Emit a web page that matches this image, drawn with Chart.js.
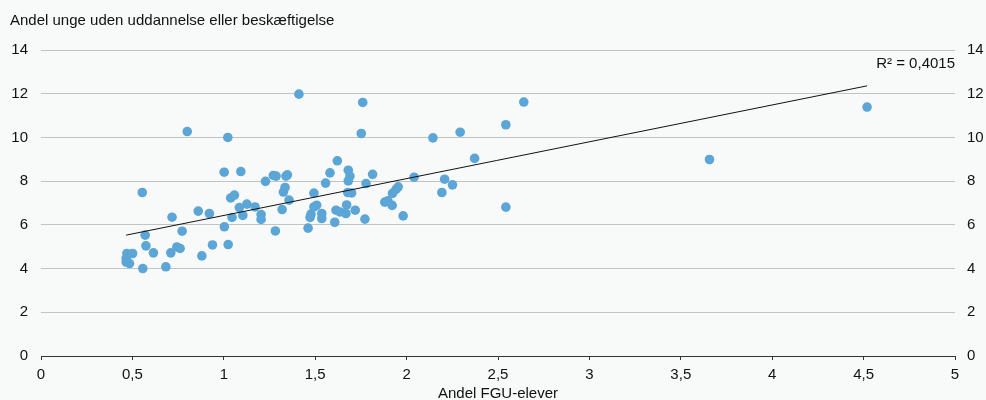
<!DOCTYPE html>
<html lang="da">
<head>
<meta charset="utf-8">
<title>Andel unge uden uddannelse eller beskæftigelse</title>
<script src="https://cdn.jsdelivr.net/npm/chart.js@4"></script>
<style>
    html, body { margin: 0; padding: 0; background: #f8f9f9; }
    #wrap { width: 986px; height: 400px; position: relative; }
</style>
</head>
<body>
<div id="wrap"><canvas id="fguChart"></canvas></div>
<script>
// Data
const fguShare = [ // x: Andel FGU-elever
    0.470, 0.501, 0.466, 0.466, 0.484, 0.554, 0.570, 0.574, 0.557, 0.615,
    0.683, 0.710, 0.717, 0.743, 0.761, 0.772, 0.800, 0.860, 0.880, 0.921,
    0.938, 1.003, 1.024, 1.002, 1.022, 1.038, 1.058, 1.045, 1.085, 1.093,
    1.104, 1.126, 1.171, 1.204, 1.204, 1.228, 1.271, 1.286, 1.282, 1.319,
    1.326, 1.335, 1.340, 1.348, 1.357, 1.411, 1.461, 1.472, 1.477, 1.493,
    1.493, 1.508, 1.536, 1.536, 1.557, 1.581, 1.607, 1.614, 1.621, 1.636,
    1.668, 1.672, 1.678, 1.681, 1.681, 1.690, 1.699, 1.719, 1.752, 1.760,
    1.772, 1.778, 1.814, 1.881, 1.897, 1.921, 1.923, 1.942, 1.954, 1.981,
    2.041, 2.144, 2.193, 2.208, 2.251, 2.293, 2.372, 2.543, 2.543, 2.641,
    3.657, 4.519
];
const neetShare = [ // y: Andel unge uden uddannelse eller beskæftigelse
    4.69, 4.69, 4.47, 4.30, 4.23, 7.48, 5.53, 5.04, 4.00, 4.72,
    4.08, 4.72, 6.35, 4.99, 4.92, 5.71, 10.27, 6.63, 4.58, 6.52,
    5.08, 5.91, 5.10, 8.41, 10.00, 7.23, 7.36, 6.34, 6.79, 8.44,
    6.43, 6.95, 6.82, 6.47, 6.25, 7.99, 8.26, 8.23, 5.72, 6.70,
    7.50, 7.71, 8.23, 8.29, 7.13, 11.98, 5.85, 6.34, 6.49, 6.82,
    7.45, 6.90, 6.52, 6.29, 7.91, 8.38, 6.12, 6.67, 8.93, 6.59,
    6.52, 6.91, 7.48, 8.01, 8.50, 8.23, 7.46, 6.67, 10.18, 11.60,
    6.26, 7.89, 8.31, 7.04, 7.10, 6.89, 7.44, 7.62, 7.74, 6.41,
    8.18, 9.98, 7.48, 8.09, 7.83, 10.24, 9.04, 10.58, 6.81, 11.62,
    8.99, 11.39
];
const trendX = [0.466, 4.519]; // end points of the trend line, as drawn
const trendY = [5.53, 12.36];
const yTicks = [0, 2, 4, 6, 8, 10, 12, 14];
const xTicks = [0, 0.5, 1, 1.5, 2, 2.5, 3, 3.5, 4, 4.5, 5];

const FONT = "'Liberation Sans', Arial, Helvetica, sans-serif";
const TEXT = '#111';

// small plugin for the texts that are not axis labels (top title and R²)
const extraText = {
    id: 'extraText',
    afterDraw(chart) {
        const ctx = chart.ctx;
        const area = chart.chartArea;
        ctx.save();
        ctx.font = '15px ' + FONT;
        ctx.fillStyle = TEXT;
        ctx.textBaseline = 'middle';
        ctx.textAlign = 'left';
        ctx.fillText('Andel unge uden uddannelse eller beskæftigelse', 10, 21); // y-axis title above the plot
        ctx.textAlign = 'right';
        ctx.fillText('R² = 0,4015', area.right, 64); // goodness of fit label
        ctx.restore();
    }
};

document.addEventListener('DOMContentLoaded', () => {
    const ctx = document.getElementById('fguChart').getContext('2d');
    const points = fguShare.map((x, i) => ({ x: x, y: neetShare[i] })); // pair up x and y
    const trend = trendX.map((x, i) => ({ x: x, y: trendY[i] }));
    const comma = v => String(v).replace('.', ','); // Danish decimal comma
    const tickFont = { family: FONT, size: 15 };

    new Chart(ctx, {
        type: 'scatter',
        data: {
            datasets: [{
                data: points,
                backgroundColor: '#5ba6d6',
                borderWidth: 0,
                pointRadius: 4.8,
                pointHoverRadius: 4.8
            }, {
                data: trend,
                showLine: true,
                borderColor: '#111',
                borderWidth: 1,
                pointRadius: 0,
                order: -1
            }]
        },
        options: {
            responsive: true,
            maintainAspectRatio: false,
            animation: false,
            layout: { padding: { top: 50, left: 0, right: 0, bottom: 0 } },
            plugins: { legend: { display: false }, tooltip: { enabled: false } },
            scales: {
                x: {
                    type: 'linear', min: 0, max: 5,
                    afterBuildTicks: s => { s.ticks = xTicks.map(v => ({ value: v })); },
                    afterFit: s => { s.height = 44; },
                    grid: { drawOnChartArea: false, drawTicks: true, tickLength: 4, color: '#333' },
                    border: { color: '#333', width: 1 },
                    ticks: { color: TEXT, font: tickFont, padding: 6, callback: comma },
                    title: { display: true, text: 'Andel FGU-elever', color: TEXT, font: tickFont, padding: { top: 0, bottom: -3 } }
                },
                y: {
                    min: 0, max: 14, position: 'left',
                    afterBuildTicks: s => { s.ticks = yTicks.map(v => ({ value: v })); },
                    afterFit: s => { s.width = 41; },
                    grid: { color: '#c3c3c3', drawTicks: false },
                    border: { display: false },
                    ticks: { color: TEXT, font: tickFont, padding: 13 }
                },
                y2: {
                    min: 0, max: 14, position: 'right',
                    afterBuildTicks: s => { s.ticks = yTicks.map(v => ({ value: v })); },
                    afterFit: s => { s.width = 31; },
                    grid: { display: false, drawTicks: false },
                    border: { display: false },
                    ticks: { color: TEXT, font: tickFont, padding: 12 }
                }
            }
        },
        plugins: [extraText]
    });
});
</script>
</body>
</html>
